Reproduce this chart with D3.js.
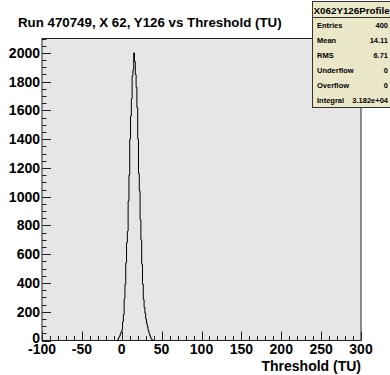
<!DOCTYPE html>
<html>
<head>
<meta charset="utf-8">
<script src="https://cdn.jsdelivr.net/npm/d3@7"></script>
<style>
  body { margin: 0; background: #fff; }
  svg { display: block; font-family: "Liberation Sans", Arial, sans-serif; }
</style>
</head>
<body>
<div id="chart"></div>
<script>
// histogram contents, 1 TU bins, first bin low edge at binStart
const binStart = -6;
const counts = [0, 10, 20, 30, 45, 60, 75, 130, 180, 290, 390, 540, 680, 760, 970, 1150,
  1400, 1560, 1680, 1840, 1880, 2000, 1940, 1850, 1760, 1620, 1400, 1160, 1040, 840, 700,
  530, 390, 285, 230, 190, 150, 120, 95, 70, 50, 35, 20, 10, 5, 0];
const xTickValues = [-100, -50, 0, 50, 100, 150, 200, 250, 300];
const yTickValues = [0, 200, 400, 600, 800, 1000, 1200, 1400, 1600, 1800, 2000];
const statLabels = ["Entries", "Mean", "RMS", "Underflow", "Overflow", "Integral"];
const statValues = ["400", "14.11", "6.71", "0", "0", "3.182e+04"];
const histName = "X062Y126Profile";
const title = "Run 470749, X 62, Y126 vs Threshold (TU)";
const xTitle = "Threshold (TU)";

const WIDTH = 390, HEIGHT = 375;
const frame = {left: 42, right: 361, top: 38.5, bottom: 340.5};

const svg = d3.select("#chart").append("svg")
  .attr("width", WIDTH)
  .attr("height", HEIGHT);

const x = d3.scaleLinear().domain([-100, 300]).range([frame.left, frame.right]);
const y = d3.scaleLinear().domain([0, 2100]).range([frame.bottom, frame.top]);

// frame
svg.append("rect")
  .attr("x", frame.left).attr("y", frame.top)
  .attr("width", frame.right - frame.left)
  .attr("height", frame.bottom - frame.top)
  .attr("fill", "#e6e6e6")
  .attr("stroke", "#222")
  .attr("stroke-width", 1);

// x axis ticks (drawn inside frame, pointing up)
const xMinor = d3.range(-100, 301, 10);
svg.append("g").selectAll("line")
  .data(xMinor)
  .enter().append("line")
    .attr("x1", d => Math.round(x(d)) + 0.5)
    .attr("x2", d => Math.round(x(d)) + 0.5)
    .attr("y1", frame.bottom)
    .attr("y2", d => frame.bottom - (d % 50 === 0 ? 9 : 4.5))
    .attr("stroke", "#222");

svg.append("g").selectAll("text")
  .data(xTickValues)
  .enter().append("text")
    .attr("x", d => x(d))
    .attr("y", 353.5)
    .attr("text-anchor", "middle")
    .attr("font-size", "14px")
    .attr("font-weight", "bold")
    .text(d => d);

// y axis ticks
const yMinor = d3.range(0, 2101, 50);
svg.append("g").selectAll("line")
  .data(yMinor)
  .enter().append("line")
    .attr("x1", frame.left)
    .attr("x2", d => frame.left + (d % 200 === 0 ? 9 : 4.5))
    .attr("y1", d => Math.round(y(d)) + 0.5)
    .attr("y2", d => Math.round(y(d)) + 0.5)
    .attr("stroke", "#222");

svg.append("g").selectAll("text")
  .data(yTickValues)
  .enter().append("text")
    .attr("x", frame.left - 2)
    .attr("y", d => d === 0 ? y(d) + 2 : y(d) + 5)
    .attr("text-anchor", "end")
    .attr("font-size", "14px")
    .attr("font-weight", "bold")
    .text(d => d);

// histogram as steps over bin edges
const steps = counts.map((c, i) => [binStart + i, c]);
steps.push([binStart + counts.length, counts[counts.length - 1]]);
const line = d3.line()
  .x(d => x(d[0]))
  .y(d => y(d[1]))
  .curve(d3.curveStepAfter);
svg.append("path")
  .datum(steps)
  .attr("d", line)
  .attr("fill", "none")
  .attr("stroke", "#000")
  .attr("stroke-width", 1);

// titles
svg.append("text")
  .attr("x", 18)
  .attr("y", 27)
  .attr("font-size", "13.3px")
  .attr("font-weight", "bold")
  .text(title);

svg.append("text")
  .attr("x", frame.right)
  .attr("y", 371)
  .attr("text-anchor", "end")
  .attr("font-size", "14px")
  .attr("font-weight", "bold")
  .text(xTitle);

// stats box
const box = {x: 312.5, y: 1.5, w: 80, h: 106};
svg.append("rect")
  .attr("x", box.x).attr("y", box.y)
  .attr("width", box.w).attr("height", box.h)
  .attr("fill", "#ebe7c9")
  .attr("stroke", "#333");
svg.append("line")
  .attr("x1", box.x).attr("x2", box.x + box.w)
  .attr("y1", 17.5).attr("y2", 17.5)
  .attr("stroke", "#333");
svg.append("text")
  .attr("x", box.x + 1)
  .attr("y", 14)
  .attr("font-size", "9.8px")
  .attr("font-weight", "bold")
  .text(histName);

const rowY = i => 28 + i * 15;
svg.append("g").selectAll("text")
  .data(statLabels)
  .enter().append("text")
    .attr("x", 317)
    .attr("y", (d, i) => rowY(i))
    .attr("font-size", "7.5px")
    .attr("font-weight", "bold")
    .text(d => d);
svg.append("g").selectAll("text")
  .data(statValues)
  .enter().append("text")
    .attr("x", 388)
    .attr("y", (d, i) => rowY(i))
    .attr("text-anchor", "end")
    .attr("font-size", "7.5px")
    .attr("font-weight", "bold")
    .text(d => d);
</script>
</body>
</html>
